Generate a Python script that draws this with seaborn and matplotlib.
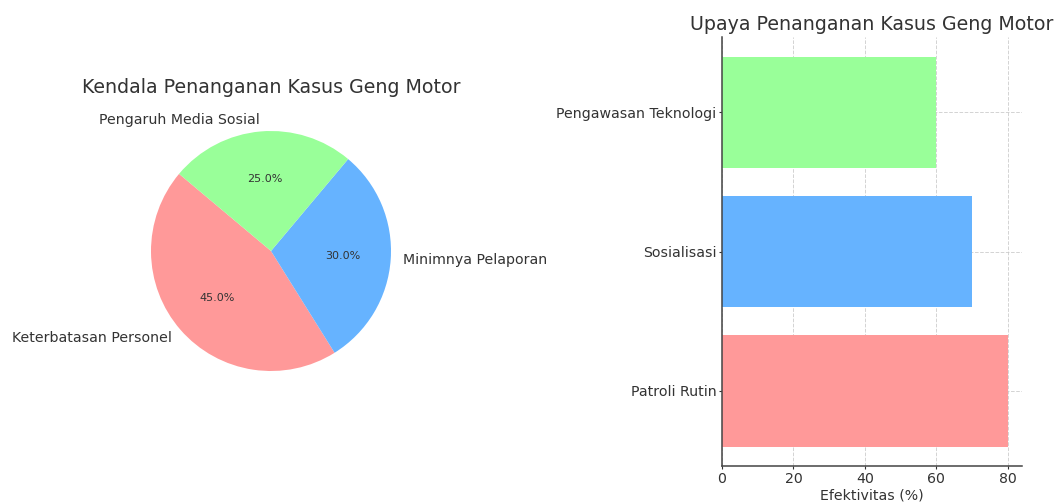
import matplotlib
matplotlib.use("Agg")
import matplotlib.pyplot as plt
import seaborn as sns
import pandas as pd

# Data
pie_labels = ["Keterbatasan Personel", "Minimnya Pelaporan", "Pengaruh Media Sosial"]
pie_values = [45, 30, 25]
pie_colors = ["#ff9999", "#66b3ff", "#99ff99"]

bar_categories = ["Patroli Rutin", "Sosialisasi", "Pengawasan Teknologi"]
bar_values = [80, 70, 60]
bar_colors = ["#ff9999", "#66b3ff", "#99ff99"]

pie_title = "Kendala Penanganan Kasus Geng Motor"
bar_title = "Upaya Penanganan Kasus Geng Motor"
bar_xlabel = "Efektivitas (%)"

sns.set_style("white")
plt.rcParams["font.family"] = ["DejaVu Sans"]
plt.rcParams["text.color"] = "#333333"
plt.rcParams["axes.labelcolor"] = "#333333"
plt.rcParams["xtick.color"] = "#333333"
plt.rcParams["ytick.color"] = "#333333"

fig = plt.figure(figsize=(10.54, 5.04), dpi=100)

# Pie chart
ax1 = fig.add_axes([121 / 1054, 1 - 401 / 504, 300 / 1054, 300 / 504])
ax1.pie(pie_values, labels=pie_labels, colors=pie_colors, startangle=140,
        autopct="%1.1f%%", wedgeprops={"linewidth": 0, "edgecolor": "none"},
        textprops={"fontsize": 10.2, "color": "#333333"})
for t in ax1.texts:
    if t.get_text().endswith("%"):
        t.set_fontsize(8)
ax1.set_aspect("equal")
ax1.set_title(pie_title, fontsize=13.7, color="#333333")

# Bar chart
ax2 = fig.add_axes([722 / 1054, 1 - 466 / 504, 300 / 1054, 429 / 504])
order = list(reversed(bar_categories))
df = pd.DataFrame({"cat": bar_categories, "val": bar_values})
pal = dict(zip(bar_categories, bar_colors))
sns.barplot(data=df, x="val", y="cat", hue="cat", order=order, palette=pal,
            saturation=1, orient="h", legend=False, ax=ax2, width=0.8,
            linewidth=0)
ax2.set_ylim(2.54, -0.54)
ax2.set_xlim(0, 84)
ax2.set_xticks([0, 20, 40, 60, 80])
ax2.grid(True, linestyle="--", color="#c8c8c8", alpha=0.8, linewidth=0.7)
ax2.set_axisbelow(True)
for s in ["top", "right"]:
    ax2.spines[s].set_visible(False)
for s in ["left", "bottom"]:
    ax2.spines[s].set_color("#444444")
    ax2.spines[s].set_linewidth(1.1)
ax2.tick_params(axis="both", labelsize=10.2, length=2, width=0.8, pad=2,
                left=True, bottom=True)
ax2.set_ylabel("")
ax2.set_xlabel(bar_xlabel, fontsize=10.2, labelpad=2)
ax2.set_title(bar_title, fontsize=13.7, color="#333333", pad=5)

fig.savefig("out.png", dpi=100)
